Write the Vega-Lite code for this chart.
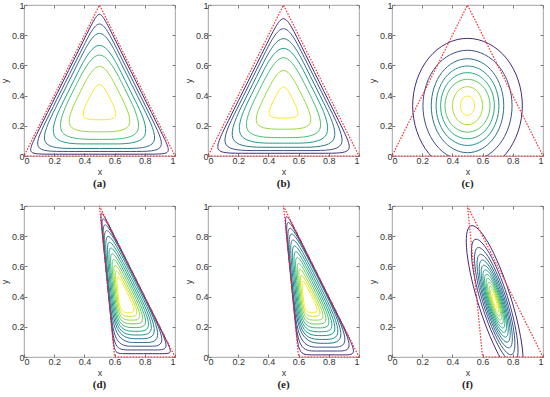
{
"$schema": "https://vega.github.io/schema/vega-lite/v6.json",
"padding": {"left": 0, "top": 0, "right": 0, "bottom": 0},
"config": {
 "view": {"stroke": "#8a8a8a", "strokeWidth": 0.8},
 "axis": {"labelFont": "Liberation Sans", "labelFontSize": 9, "labelColor": "#333333", "titleFont": "Liberation Sans", "titleFontSize": 9, "titleFontWeight": "normal", "titleColor": "#333333", "grid": false, "domain": false, "tickColor": "#777777", "tickSize": -3, "labelPadding": 3, "titlePadding": 2, "values": [0, 0.2, 0.4, 0.6, 0.8, 1], "format": "~g"},
 "title": {"orient": "bottom", "font": "Liberation Serif", "fontSize": 11, "fontWeight": "bold", "color": "#222222", "offset": 2}
},
"datasets": {
 "tri": [
  {"g":1,"o":1,"x":0,"y":0},{"g":1,"o":2,"x":1,"y":0},{"g":1,"o":3,"x":0.5,"y":1},{"g":1,"o":4,"x":0,"y":0},
  {"g":2,"o":1,"x":0.6,"y":0},{"g":2,"o":2,"x":1,"y":0},{"g":2,"o":3,"x":0.5,"y":1},{"g":2,"o":4,"x":0.6,"y":0}
 ],
 "con": [
  {"p":"a","k":1,"l":0,"o":1,"x":0.132,"y":0.012},{"p":"a","k":1,"l":0,"o":2,"x":0.868,"y":0.012},{"p":"a","k":1,"l":0,"o":3,"x":0.982,"y":0.012},{"p":"a","k":1,"l":0,"o":4,"x":0.925,"y":0.126},{"p":"a","k":1,"l":0,"o":5,"x":0.557,"y":0.862},{"p":"a","k":1,"l":0,"o":6,"x":0.5,"y":0.976},{"p":"a","k":1,"l":0,"o":7,"x":0.443,"y":0.862},{"p":"a","k":1,"l":0,"o":8,"x":0.075,"y":0.126},{"p":"a","k":1,"l":0,"o":9,"x":0.018,"y":0.012},
  {"p":"a","k":2,"l":0.1667,"o":1,"x":0.243,"y":0.03},{"p":"a","k":2,"l":0.1667,"o":2,"x":0.757,"y":0.03},{"p":"a","k":2,"l":0.1667,"o":3,"x":0.955,"y":0.03},{"p":"a","k":2,"l":0.1667,"o":4,"x":0.856,"y":0.228},{"p":"a","k":2,"l":0.1667,"o":5,"x":0.599,"y":0.742},{"p":"a","k":2,"l":0.1667,"o":6,"x":0.5,"y":0.94},{"p":"a","k":2,"l":0.1667,"o":7,"x":0.401,"y":0.742},{"p":"a","k":2,"l":0.1667,"o":8,"x":0.144,"y":0.228},{"p":"a","k":2,"l":0.1667,"o":9,"x":0.045,"y":0.03},
  {"p":"a","k":3,"l":0.3333,"o":1,"x":0.339,"y":0.05},{"p":"a","k":3,"l":0.3333,"o":2,"x":0.661,"y":0.05},{"p":"a","k":3,"l":0.3333,"o":3,"x":0.925,"y":0.05},{"p":"a","k":3,"l":0.3333,"o":4,"x":0.793,"y":0.314},{"p":"a","k":3,"l":0.3333,"o":5,"x":0.632,"y":0.636},{"p":"a","k":3,"l":0.3333,"o":6,"x":0.5,"y":0.9},{"p":"a","k":3,"l":0.3333,"o":7,"x":0.368,"y":0.636},{"p":"a","k":3,"l":0.3333,"o":8,"x":0.207,"y":0.314},{"p":"a","k":3,"l":0.3333,"o":9,"x":0.075,"y":0.05},
  {"p":"a","k":4,"l":0.5,"o":1,"x":0.444,"y":0.08},{"p":"a","k":4,"l":0.5,"o":2,"x":0.556,"y":0.08},{"p":"a","k":4,"l":0.5,"o":3,"x":0.88,"y":0.08},{"p":"a","k":4,"l":0.5,"o":4,"x":0.718,"y":0.404},{"p":"a","k":4,"l":0.5,"o":5,"x":0.662,"y":0.516},{"p":"a","k":4,"l":0.5,"o":6,"x":0.5,"y":0.84},{"p":"a","k":4,"l":0.5,"o":7,"x":0.338,"y":0.516},{"p":"a","k":4,"l":0.5,"o":8,"x":0.282,"y":0.404},{"p":"a","k":4,"l":0.5,"o":9,"x":0.12,"y":0.08},
  {"p":"a","k":5,"l":0.6667,"o":1,"x":0.165,"y":0.11},{"p":"a","k":5,"l":0.6667,"o":2,"x":0.5,"y":0.11},{"p":"a","k":5,"l":0.6667,"o":3,"x":0.835,"y":0.11},{"p":"a","k":5,"l":0.6667,"o":4,"x":0.6675,"y":0.445},{"p":"a","k":5,"l":0.6667,"o":5,"x":0.5,"y":0.78},{"p":"a","k":5,"l":0.6667,"o":6,"x":0.3325,"y":0.445},
  {"p":"a","k":6,"l":0.8333,"o":1,"x":0.24,"y":0.16},{"p":"a","k":6,"l":0.8333,"o":2,"x":0.5,"y":0.16},{"p":"a","k":6,"l":0.8333,"o":3,"x":0.76,"y":0.16},{"p":"a","k":6,"l":0.8333,"o":4,"x":0.63,"y":0.42},{"p":"a","k":6,"l":0.8333,"o":5,"x":0.5,"y":0.68},{"p":"a","k":6,"l":0.8333,"o":6,"x":0.37,"y":0.42},
  {"p":"a","k":7,"l":1,"o":1,"x":0.36,"y":0.24},{"p":"a","k":7,"l":1,"o":2,"x":0.5,"y":0.24},{"p":"a","k":7,"l":1,"o":3,"x":0.64,"y":0.24},{"p":"a","k":7,"l":1,"o":4,"x":0.57,"y":0.38},{"p":"a","k":7,"l":1,"o":5,"x":0.5,"y":0.52},{"p":"a","k":7,"l":1,"o":6,"x":0.43,"y":0.38},

  {"p":"b","k":1,"l":0,"o":1,"x":0.192,"y":0.018},{"p":"b","k":1,"l":0,"o":2,"x":0.808,"y":0.018},{"p":"b","k":1,"l":0,"o":3,"x":0.973,"y":0.018},{"p":"b","k":1,"l":0,"o":4,"x":0.8905,"y":0.183},{"p":"b","k":1,"l":0,"o":5,"x":0.5825,"y":0.799},{"p":"b","k":1,"l":0,"o":6,"x":0.5,"y":0.964},{"p":"b","k":1,"l":0,"o":7,"x":0.4175,"y":0.799},{"p":"b","k":1,"l":0,"o":8,"x":0.1095,"y":0.183},{"p":"b","k":1,"l":0,"o":9,"x":0.027,"y":0.018},
  {"p":"b","k":2,"l":0.1667,"o":1,"x":0.309,"y":0.036},{"p":"b","k":2,"l":0.1667,"o":2,"x":0.691,"y":0.036},{"p":"b","k":2,"l":0.1667,"o":3,"x":0.946,"y":0.036},{"p":"b","k":2,"l":0.1667,"o":4,"x":0.8185,"y":0.291},{"p":"b","k":2,"l":0.1667,"o":5,"x":0.6275,"y":0.673},{"p":"b","k":2,"l":0.1667,"o":6,"x":0.5,"y":0.928},{"p":"b","k":2,"l":0.1667,"o":7,"x":0.3725,"y":0.673},{"p":"b","k":2,"l":0.1667,"o":8,"x":0.1815,"y":0.291},{"p":"b","k":2,"l":0.1667,"o":9,"x":0.054,"y":0.036},
  {"p":"b","k":3,"l":0.3333,"o":1,"x":0.408,"y":0.058},{"p":"b","k":3,"l":0.3333,"o":2,"x":0.592,"y":0.058},{"p":"b","k":3,"l":0.3333,"o":3,"x":0.913,"y":0.058},{"p":"b","k":3,"l":0.3333,"o":4,"x":0.7525,"y":0.379},{"p":"b","k":3,"l":0.3333,"o":5,"x":0.6605,"y":0.563},{"p":"b","k":3,"l":0.3333,"o":6,"x":0.5,"y":0.884},{"p":"b","k":3,"l":0.3333,"o":7,"x":0.3395,"y":0.563},{"p":"b","k":3,"l":0.3333,"o":8,"x":0.2475,"y":0.379},{"p":"b","k":3,"l":0.3333,"o":9,"x":0.087,"y":0.058},
  {"p":"b","k":4,"l":0.5,"o":1,"x":0.4785,"y":0.085},{"p":"b","k":4,"l":0.5,"o":2,"x":0.5215,"y":0.085},{"p":"b","k":4,"l":0.5,"o":3,"x":0.8725,"y":0.085},{"p":"b","k":4,"l":0.5,"o":4,"x":0.697,"y":0.436},{"p":"b","k":4,"l":0.5,"o":5,"x":0.6755,"y":0.479},{"p":"b","k":4,"l":0.5,"o":6,"x":0.5,"y":0.83},{"p":"b","k":4,"l":0.5,"o":7,"x":0.3245,"y":0.479},{"p":"b","k":4,"l":0.5,"o":8,"x":0.3025,"y":0.436},{"p":"b","k":4,"l":0.5,"o":9,"x":0.1275,"y":0.085},
  {"p":"b","k":5,"l":0.6667,"o":1,"x":0.182,"y":0.1215},{"p":"b","k":5,"l":0.6667,"o":2,"x":0.5,"y":0.1215},{"p":"b","k":5,"l":0.6667,"o":3,"x":0.818,"y":0.1215},{"p":"b","k":5,"l":0.6667,"o":4,"x":0.659,"y":0.439},{"p":"b","k":5,"l":0.6667,"o":5,"x":0.5,"y":0.757},{"p":"b","k":5,"l":0.6667,"o":6,"x":0.341,"y":0.439},
  {"p":"b","k":6,"l":0.8333,"o":1,"x":0.266,"y":0.1775},{"p":"b","k":6,"l":0.8333,"o":2,"x":0.5,"y":0.1775},{"p":"b","k":6,"l":0.8333,"o":3,"x":0.734,"y":0.1775},{"p":"b","k":6,"l":0.8333,"o":4,"x":0.617,"y":0.411},{"p":"b","k":6,"l":0.8333,"o":5,"x":0.5,"y":0.645},{"p":"b","k":6,"l":0.8333,"o":6,"x":0.383,"y":0.411},
  {"p":"b","k":7,"l":1,"o":1,"x":0.3765,"y":0.251},{"p":"b","k":7,"l":1,"o":2,"x":0.5,"y":0.251},{"p":"b","k":7,"l":1,"o":3,"x":0.6235,"y":0.251},{"p":"b","k":7,"l":1,"o":4,"x":0.562,"y":0.3745},{"p":"b","k":7,"l":1,"o":5,"x":0.5,"y":0.498},{"p":"b","k":7,"l":1,"o":6,"x":0.438,"y":0.3745},

  {"p":"c","k":1,"l":0,"o":1,"x":0.9024,"y":0.333},{"p":"c","k":1,"l":0,"o":2,"x":0.7846,"y":0.6826},{"p":"c","k":1,"l":0,"o":3,"x":0.5,"y":0.8274},{"p":"c","k":1,"l":0,"o":4,"x":0.2154,"y":0.6826},{"p":"c","k":1,"l":0,"o":5,"x":0.0976,"y":0.333},{"p":"c","k":1,"l":0,"o":6,"x":0.2154,"y":-0.0166},{"p":"c","k":1,"l":0,"o":7,"x":0.5,"y":-0.1614},{"p":"c","k":1,"l":0,"o":8,"x":0.7846,"y":-0.0166},
  {"p":"c","k":2,"l":0.1429,"o":1,"x":0.827,"y":0.333},{"p":"c","k":2,"l":0.1429,"o":2,"x":0.7313,"y":0.6207},{"p":"c","k":2,"l":0.1429,"o":3,"x":0.5,"y":0.7399},{"p":"c","k":2,"l":0.1429,"o":4,"x":0.2687,"y":0.6207},{"p":"c","k":2,"l":0.1429,"o":5,"x":0.173,"y":0.333},{"p":"c","k":2,"l":0.1429,"o":6,"x":0.2687,"y":0.0453},{"p":"c","k":2,"l":0.1429,"o":7,"x":0.5,"y":-0.0739},{"p":"c","k":2,"l":0.1429,"o":8,"x":0.7313,"y":0.0453},
  {"p":"c","k":3,"l":0.2857,"o":1,"x":0.7661,"y":0.333},{"p":"c","k":3,"l":0.2857,"o":2,"x":0.6881,"y":0.5768},{"p":"c","k":3,"l":0.2857,"o":3,"x":0.5,"y":0.6778},{"p":"c","k":3,"l":0.2857,"o":4,"x":0.3119,"y":0.5768},{"p":"c","k":3,"l":0.2857,"o":5,"x":0.2339,"y":0.333},{"p":"c","k":3,"l":0.2857,"o":6,"x":0.3119,"y":0.0892},{"p":"c","k":3,"l":0.2857,"o":7,"x":0.5,"y":-0.0118},{"p":"c","k":3,"l":0.2857,"o":8,"x":0.6881,"y":0.0892},
  {"p":"c","k":4,"l":0.4286,"o":1,"x":0.7306,"y":0.333},{"p":"c","k":4,"l":0.4286,"o":2,"x":0.6631,"y":0.5392},{"p":"c","k":4,"l":0.4286,"o":3,"x":0.5,"y":0.6246},{"p":"c","k":4,"l":0.4286,"o":4,"x":0.3369,"y":0.5392},{"p":"c","k":4,"l":0.4286,"o":5,"x":0.2694,"y":0.333},{"p":"c","k":4,"l":0.4286,"o":6,"x":0.3369,"y":0.1268},{"p":"c","k":4,"l":0.4286,"o":7,"x":0.5,"y":0.0414},{"p":"c","k":4,"l":0.4286,"o":8,"x":0.6631,"y":0.1268},
  {"p":"c","k":5,"l":0.5714,"o":1,"x":0.6973,"y":0.333},{"p":"c","k":5,"l":0.5714,"o":2,"x":0.6395,"y":0.5047},{"p":"c","k":5,"l":0.5714,"o":3,"x":0.5,"y":0.5758},{"p":"c","k":5,"l":0.5714,"o":4,"x":0.3605,"y":0.5047},{"p":"c","k":5,"l":0.5714,"o":5,"x":0.3027,"y":0.333},{"p":"c","k":5,"l":0.5714,"o":6,"x":0.3605,"y":0.1613},{"p":"c","k":5,"l":0.5714,"o":7,"x":0.5,"y":0.0902},{"p":"c","k":5,"l":0.5714,"o":8,"x":0.6395,"y":0.1613},
  {"p":"c","k":6,"l":0.7143,"o":1,"x":0.6652,"y":0.333},{"p":"c","k":6,"l":0.7143,"o":2,"x":0.6168,"y":0.4702},{"p":"c","k":6,"l":0.7143,"o":3,"x":0.5,"y":0.527},{"p":"c","k":6,"l":0.7143,"o":4,"x":0.3832,"y":0.4702},{"p":"c","k":6,"l":0.7143,"o":5,"x":0.3348,"y":0.333},{"p":"c","k":6,"l":0.7143,"o":6,"x":0.3832,"y":0.1958},{"p":"c","k":6,"l":0.7143,"o":7,"x":0.5,"y":0.139},{"p":"c","k":6,"l":0.7143,"o":8,"x":0.6168,"y":0.1958},
  {"p":"c","k":7,"l":0.8571,"o":1,"x":0.6109,"y":0.333},{"p":"c","k":7,"l":0.8571,"o":2,"x":0.5784,"y":0.4318},{"p":"c","k":7,"l":0.8571,"o":3,"x":0.5,"y":0.4727},{"p":"c","k":7,"l":0.8571,"o":4,"x":0.4216,"y":0.4318},{"p":"c","k":7,"l":0.8571,"o":5,"x":0.3891,"y":0.333},{"p":"c","k":7,"l":0.8571,"o":6,"x":0.4216,"y":0.2342},{"p":"c","k":7,"l":0.8571,"o":7,"x":0.5,"y":0.1933},{"p":"c","k":7,"l":0.8571,"o":8,"x":0.5784,"y":0.2342},
  {"p":"c","k":8,"l":1,"o":1,"x":0.5521,"y":0.333},{"p":"c","k":8,"l":1,"o":2,"x":0.5368,"y":0.3832},{"p":"c","k":8,"l":1,"o":3,"x":0.5,"y":0.404},{"p":"c","k":8,"l":1,"o":4,"x":0.4632,"y":0.3832},{"p":"c","k":8,"l":1,"o":5,"x":0.4479,"y":0.333},{"p":"c","k":8,"l":1,"o":6,"x":0.4632,"y":0.2828},{"p":"c","k":8,"l":1,"o":7,"x":0.5,"y":0.262},{"p":"c","k":8,"l":1,"o":8,"x":0.5368,"y":0.2828},

  {"p":"d","k":1,"l":0,"o":1,"x":0.6492,"y":0.022},{"p":"d","k":1,"l":0,"o":2,"x":0.937,"y":0.022},{"p":"d","k":1,"l":0,"o":3,"x":0.9875,"y":0.022},{"p":"d","k":1,"l":0,"o":4,"x":0.9243,"y":0.1484},{"p":"d","k":1,"l":0,"o":5,"x":0.5647,"y":0.8676},{"p":"d","k":1,"l":0,"o":6,"x":0.5015,"y":0.994},{"p":"d","k":1,"l":0,"o":7,"x":0.5141,"y":0.8676},{"p":"d","k":1,"l":0,"o":8,"x":0.5861,"y":0.1484},{"p":"d","k":1,"l":0,"o":9,"x":0.5987,"y":0.022},
  {"p":"d","k":2,"l":0.0909,"o":1,"x":0.6861,"y":0.0467},{"p":"d","k":2,"l":0.0909,"o":2,"x":0.8848,"y":0.0467},{"p":"d","k":2,"l":0.0909,"o":3,"x":0.9737,"y":0.0467},{"p":"d","k":2,"l":0.0909,"o":4,"x":0.8626,"y":0.2688},{"p":"d","k":2,"l":0.0909,"o":5,"x":0.6141,"y":0.7659},{"p":"d","k":2,"l":0.0909,"o":6,"x":0.503,"y":0.988},{"p":"d","k":2,"l":0.0909,"o":7,"x":0.5252,"y":0.7659},{"p":"d","k":2,"l":0.0909,"o":8,"x":0.575,"y":0.2688},{"p":"d","k":2,"l":0.0909,"o":9,"x":0.5972,"y":0.0467},
  {"p":"d","k":3,"l":0.1818,"o":1,"x":0.7219,"y":0.0714},{"p":"d","k":3,"l":0.1818,"o":2,"x":0.8334,"y":0.0714},{"p":"d","k":3,"l":0.1818,"o":3,"x":0.9594,"y":0.0714},{"p":"d","k":3,"l":0.1818,"o":4,"x":0.8019,"y":0.3864},{"p":"d","k":3,"l":0.1818,"o":5,"x":0.6626,"y":0.665},{"p":"d","k":3,"l":0.1818,"o":6,"x":0.5051,"y":0.98},{"p":"d","k":3,"l":0.1818,"o":7,"x":0.5366,"y":0.665},{"p":"d","k":3,"l":0.1818,"o":8,"x":0.5644,"y":0.3864},{"p":"d","k":3,"l":0.1818,"o":9,"x":0.5959,"y":0.0714},
  {"p":"d","k":4,"l":0.2727,"o":1,"x":0.7546,"y":0.0961},{"p":"d","k":4,"l":0.2727,"o":2,"x":0.785,"y":0.0961},{"p":"d","k":4,"l":0.2727,"o":3,"x":0.9446,"y":0.0961},{"p":"d","k":4,"l":0.2727,"o":4,"x":0.7451,"y":0.4951},{"p":"d","k":4,"l":0.2727,"o":5,"x":0.7071,"y":0.571},{"p":"d","k":4,"l":0.2727,"o":6,"x":0.5076,"y":0.97},{"p":"d","k":4,"l":0.2727,"o":7,"x":0.5475,"y":0.571},{"p":"d","k":4,"l":0.2727,"o":8,"x":0.5551,"y":0.4951},{"p":"d","k":4,"l":0.2727,"o":9,"x":0.595,"y":0.0961},
  {"p":"d","k":5,"l":0.3636,"o":1,"x":0.598,"y":0.1208},{"p":"d","k":5,"l":0.3636,"o":2,"x":0.7608,"y":0.1208},{"p":"d","k":5,"l":0.3636,"o":3,"x":0.9235,"y":0.1208},{"p":"d","k":5,"l":0.3636,"o":4,"x":0.72,"y":0.5277},{"p":"d","k":5,"l":0.3636,"o":5,"x":0.5166,"y":0.9346},{"p":"d","k":5,"l":0.3636,"o":6,"x":0.5573,"y":0.5277},
  {"p":"d","k":6,"l":0.4545,"o":1,"x":0.6035,"y":0.1455},{"p":"d","k":6,"l":0.4545,"o":2,"x":0.751,"y":0.1455},{"p":"d","k":6,"l":0.4545,"o":3,"x":0.8984,"y":0.1455},{"p":"d","k":6,"l":0.4545,"o":4,"x":0.7141,"y":0.5142},{"p":"d","k":6,"l":0.4545,"o":5,"x":0.5297,"y":0.8829},{"p":"d","k":6,"l":0.4545,"o":6,"x":0.5666,"y":0.5142},
  {"p":"d","k":7,"l":0.5455,"o":1,"x":0.6087,"y":0.1702},{"p":"d","k":7,"l":0.5455,"o":2,"x":0.7412,"y":0.1702},{"p":"d","k":7,"l":0.5455,"o":3,"x":0.8736,"y":0.1702},{"p":"d","k":7,"l":0.5455,"o":4,"x":0.7081,"y":0.5013},{"p":"d","k":7,"l":0.5455,"o":5,"x":0.5425,"y":0.8324},{"p":"d","k":7,"l":0.5455,"o":6,"x":0.5756,"y":0.5013},
  {"p":"d","k":8,"l":0.6364,"o":1,"x":0.614,"y":0.1949},{"p":"d","k":8,"l":0.6364,"o":2,"x":0.7314,"y":0.1949},{"p":"d","k":8,"l":0.6364,"o":3,"x":0.8488,"y":0.1949},{"p":"d","k":8,"l":0.6364,"o":4,"x":0.7021,"y":0.4884},{"p":"d","k":8,"l":0.6364,"o":5,"x":0.5553,"y":0.7818},{"p":"d","k":8,"l":0.6364,"o":6,"x":0.5847,"y":0.4884},
  {"p":"d","k":9,"l":0.7273,"o":1,"x":0.6193,"y":0.2196},{"p":"d","k":9,"l":0.7273,"o":2,"x":0.7217,"y":0.2196},{"p":"d","k":9,"l":0.7273,"o":3,"x":0.824,"y":0.2196},{"p":"d","k":9,"l":0.7273,"o":4,"x":0.6961,"y":0.4755},{"p":"d","k":9,"l":0.7273,"o":5,"x":0.5682,"y":0.7313},{"p":"d","k":9,"l":0.7273,"o":6,"x":0.5938,"y":0.4755},
  {"p":"d","k":10,"l":0.8182,"o":1,"x":0.6248,"y":0.2443},{"p":"d","k":10,"l":0.8182,"o":2,"x":0.7119,"y":0.2443},{"p":"d","k":10,"l":0.8182,"o":3,"x":0.7989,"y":0.2443},{"p":"d","k":10,"l":0.8182,"o":4,"x":0.6901,"y":0.4619},{"p":"d","k":10,"l":0.8182,"o":5,"x":0.5813,"y":0.6795},{"p":"d","k":10,"l":0.8182,"o":6,"x":0.6031,"y":0.4619},
  {"p":"d","k":11,"l":0.9091,"o":1,"x":0.6301,"y":0.269},{"p":"d","k":11,"l":0.9091,"o":2,"x":0.7021,"y":0.269},{"p":"d","k":11,"l":0.9091,"o":3,"x":0.7741,"y":0.269},{"p":"d","k":11,"l":0.9091,"o":4,"x":0.6841,"y":0.449},{"p":"d","k":11,"l":0.9091,"o":5,"x":0.5941,"y":0.629},{"p":"d","k":11,"l":0.9091,"o":6,"x":0.6121,"y":0.449},
  {"p":"d","k":12,"l":1,"o":1,"x":0.6354,"y":0.294},{"p":"d","k":12,"l":1,"o":2,"x":0.6922,"y":0.294},{"p":"d","k":12,"l":1,"o":3,"x":0.749,"y":0.294},{"p":"d","k":12,"l":1,"o":4,"x":0.678,"y":0.436},{"p":"d","k":12,"l":1,"o":5,"x":0.607,"y":0.578},{"p":"d","k":12,"l":1,"o":6,"x":0.6212,"y":0.436},

  {"p":"e","k":1,"l":0,"o":1,"x":0.6753,"y":0.014},{"p":"e","k":1,"l":0,"o":2,"x":0.9157,"y":0.014},{"p":"e","k":1,"l":0,"o":3,"x":0.9913,"y":0.014},{"p":"e","k":1,"l":0,"o":4,"x":0.8968,"y":0.2029},{"p":"e","k":1,"l":0,"o":5,"x":0.5963,"y":0.8041},{"p":"e","k":1,"l":0,"o":6,"x":0.5018,"y":0.993},{"p":"e","k":1,"l":0,"o":7,"x":0.5207,"y":0.8041},{"p":"e","k":1,"l":0,"o":8,"x":0.5808,"y":0.2029},{"p":"e","k":1,"l":0,"o":9,"x":0.5997,"y":0.014},
  {"p":"e","k":2,"l":0.0909,"o":1,"x":0.7122,"y":0.0396},{"p":"e","k":2,"l":0.0909,"o":2,"x":0.8628,"y":0.0396},{"p":"e","k":2,"l":0.0909,"o":3,"x":0.9768,"y":0.0396},{"p":"e","k":2,"l":0.0909,"o":4,"x":0.8343,"y":0.3246},{"p":"e","k":2,"l":0.0909,"o":5,"x":0.6461,"y":0.701},{"p":"e","k":2,"l":0.0909,"o":6,"x":0.5036,"y":0.986},{"p":"e","k":2,"l":0.0909,"o":7,"x":0.5321,"y":0.701},{"p":"e","k":2,"l":0.0909,"o":8,"x":0.5697,"y":0.3246},{"p":"e","k":2,"l":0.0909,"o":9,"x":0.5982,"y":0.0396},
  {"p":"e","k":3,"l":0.1818,"o":1,"x":0.7449,"y":0.0651},{"p":"e","k":3,"l":0.1818,"o":2,"x":0.8137,"y":0.0651},{"p":"e","k":3,"l":0.1818,"o":3,"x":0.9613,"y":0.0651},{"p":"e","k":3,"l":0.1818,"o":4,"x":0.7768,"y":0.4341},{"p":"e","k":3,"l":0.1818,"o":5,"x":0.6908,"y":0.606},{"p":"e","k":3,"l":0.1818,"o":6,"x":0.5063,"y":0.975},{"p":"e","k":3,"l":0.1818,"o":7,"x":0.5432,"y":0.606},{"p":"e","k":3,"l":0.1818,"o":8,"x":0.5604,"y":0.4341},{"p":"e","k":3,"l":0.1818,"o":9,"x":0.5973,"y":0.0651},
  {"p":"e","k":4,"l":0.2727,"o":1,"x":0.5973,"y":0.0907},{"p":"e","k":4,"l":0.2727,"o":2,"x":0.7709,"y":0.0907},{"p":"e","k":4,"l":0.2727,"o":3,"x":0.9445,"y":0.0907},{"p":"e","k":4,"l":0.2727,"o":4,"x":0.7275,"y":0.5247},{"p":"e","k":4,"l":0.2727,"o":5,"x":0.5105,"y":0.9587},{"p":"e","k":4,"l":0.2727,"o":6,"x":0.5539,"y":0.5247},
  {"p":"e","k":5,"l":0.3636,"o":1,"x":0.6027,"y":0.1162},{"p":"e","k":5,"l":0.3636,"o":2,"x":0.7608,"y":0.1162},{"p":"e","k":5,"l":0.3636,"o":3,"x":0.9189,"y":0.1162},{"p":"e","k":5,"l":0.3636,"o":4,"x":0.7213,"y":0.5115},{"p":"e","k":5,"l":0.3636,"o":5,"x":0.5236,"y":0.9068},{"p":"e","k":5,"l":0.3636,"o":6,"x":0.5632,"y":0.5115},
  {"p":"e","k":6,"l":0.4545,"o":1,"x":0.6081,"y":0.1418},{"p":"e","k":6,"l":0.4545,"o":2,"x":0.7507,"y":0.1418},{"p":"e","k":6,"l":0.4545,"o":3,"x":0.8933,"y":0.1418},{"p":"e","k":6,"l":0.4545,"o":4,"x":0.7151,"y":0.4983},{"p":"e","k":6,"l":0.4545,"o":5,"x":0.5368,"y":0.8548},{"p":"e","k":6,"l":0.4545,"o":6,"x":0.5725,"y":0.4983},
  {"p":"e","k":7,"l":0.5455,"o":1,"x":0.6136,"y":0.1673},{"p":"e","k":7,"l":0.5455,"o":2,"x":0.7407,"y":0.1673},{"p":"e","k":7,"l":0.5455,"o":3,"x":0.8678,"y":0.1673},{"p":"e","k":7,"l":0.5455,"o":4,"x":0.7089,"y":0.4851},{"p":"e","k":7,"l":0.5455,"o":5,"x":0.55,"y":0.8029},{"p":"e","k":7,"l":0.5455,"o":6,"x":0.5818,"y":0.4851},
  {"p":"e","k":8,"l":0.6364,"o":1,"x":0.6188,"y":0.1929},{"p":"e","k":8,"l":0.6364,"o":2,"x":0.7307,"y":0.1929},{"p":"e","k":8,"l":0.6364,"o":3,"x":0.8425,"y":0.1929},{"p":"e","k":8,"l":0.6364,"o":4,"x":0.7027,"y":0.4726},{"p":"e","k":8,"l":0.6364,"o":5,"x":0.5629,"y":0.7522},{"p":"e","k":8,"l":0.6364,"o":6,"x":0.5909,"y":0.4726},
  {"p":"e","k":9,"l":0.7273,"o":1,"x":0.6242,"y":0.2184},{"p":"e","k":9,"l":0.7273,"o":2,"x":0.7206,"y":0.2184},{"p":"e","k":9,"l":0.7273,"o":3,"x":0.817,"y":0.2184},{"p":"e","k":9,"l":0.7273,"o":4,"x":0.6965,"y":0.4594},{"p":"e","k":9,"l":0.7273,"o":5,"x":0.576,"y":0.7003},{"p":"e","k":9,"l":0.7273,"o":6,"x":0.6001,"y":0.4594},
  {"p":"e","k":10,"l":0.8182,"o":1,"x":0.6296,"y":0.244},{"p":"e","k":10,"l":0.8182,"o":2,"x":0.7105,"y":0.244},{"p":"e","k":10,"l":0.8182,"o":3,"x":0.7914,"y":0.244},{"p":"e","k":10,"l":0.8182,"o":4,"x":0.6903,"y":0.4462},{"p":"e","k":10,"l":0.8182,"o":5,"x":0.5892,"y":0.6484},{"p":"e","k":10,"l":0.8182,"o":6,"x":0.6094,"y":0.4462},
  {"p":"e","k":11,"l":0.9091,"o":1,"x":0.635,"y":0.2695},{"p":"e","k":11,"l":0.9091,"o":2,"x":0.7004,"y":0.2695},{"p":"e","k":11,"l":0.9091,"o":3,"x":0.7658,"y":0.2695},{"p":"e","k":11,"l":0.9091,"o":4,"x":0.6841,"y":0.433},{"p":"e","k":11,"l":0.9091,"o":5,"x":0.6023,"y":0.5965},{"p":"e","k":11,"l":0.9091,"o":6,"x":0.6187,"y":0.433},
  {"p":"e","k":12,"l":1,"o":1,"x":0.6405,"y":0.295},{"p":"e","k":12,"l":1,"o":2,"x":0.6904,"y":0.295},{"p":"e","k":12,"l":1,"o":3,"x":0.7403,"y":0.295},{"p":"e","k":12,"l":1,"o":4,"x":0.6779,"y":0.4198},{"p":"e","k":12,"l":1,"o":5,"x":0.6155,"y":0.5446},{"p":"e","k":12,"l":1,"o":6,"x":0.628,"y":0.4198},

  {"p":"f","k":1,"l":0,"o":1,"x":0.8066,"y":0.37},{"p":"f","k":1,"l":0,"o":2,"x":0.652,"y":0.762},{"p":"f","k":1,"l":0,"o":3,"x":0.5139,"y":0.9243},{"p":"f","k":1,"l":0,"o":4,"x":0.4733,"y":0.762},{"p":"f","k":1,"l":0,"o":5,"x":0.5538,"y":0.37},{"p":"f","k":1,"l":0,"o":6,"x":0.7084,"y":-0.022},{"p":"f","k":1,"l":0,"o":7,"x":0.8465,"y":-0.1843},{"p":"f","k":1,"l":0,"o":8,"x":0.8872,"y":-0.022},
  {"p":"f","k":2,"l":0.0833,"o":1,"x":0.7838,"y":0.37},{"p":"f","k":2,"l":0.0833,"o":2,"x":0.6571,"y":0.6914},{"p":"f","k":2,"l":0.0833,"o":3,"x":0.5438,"y":0.8245},{"p":"f","k":2,"l":0.0833,"o":4,"x":0.5105,"y":0.6914},{"p":"f","k":2,"l":0.0833,"o":5,"x":0.5766,"y":0.37},{"p":"f","k":2,"l":0.0833,"o":6,"x":0.7033,"y":0.0486},{"p":"f","k":2,"l":0.0833,"o":7,"x":0.8166,"y":-0.0845},{"p":"f","k":2,"l":0.0833,"o":8,"x":0.8499,"y":0.0486},
  {"p":"f","k":3,"l":0.1667,"o":1,"x":0.7699,"y":0.37},{"p":"f","k":3,"l":0.1667,"o":2,"x":0.6602,"y":0.6483},{"p":"f","k":3,"l":0.1667,"o":3,"x":0.5621,"y":0.7636},{"p":"f","k":3,"l":0.1667,"o":4,"x":0.5333,"y":0.6483},{"p":"f","k":3,"l":0.1667,"o":5,"x":0.5905,"y":0.37},{"p":"f","k":3,"l":0.1667,"o":6,"x":0.7002,"y":0.0917},{"p":"f","k":3,"l":0.1667,"o":7,"x":0.7983,"y":-0.0236},{"p":"f","k":3,"l":0.1667,"o":8,"x":0.8271,"y":0.0917},
  {"p":"f","k":4,"l":0.25,"o":1,"x":0.7586,"y":0.37},{"p":"f","k":4,"l":0.25,"o":2,"x":0.6627,"y":0.613},{"p":"f","k":4,"l":0.25,"o":3,"x":0.5771,"y":0.7137},{"p":"f","k":4,"l":0.25,"o":4,"x":0.5519,"y":0.613},{"p":"f","k":4,"l":0.25,"o":5,"x":0.6018,"y":0.37},{"p":"f","k":4,"l":0.25,"o":6,"x":0.6977,"y":0.127},{"p":"f","k":4,"l":0.25,"o":7,"x":0.7833,"y":0.0263},{"p":"f","k":4,"l":0.25,"o":8,"x":0.8085,"y":0.127},
  {"p":"f","k":5,"l":0.3333,"o":1,"x":0.749,"y":0.37},{"p":"f","k":5,"l":0.3333,"o":2,"x":0.6649,"y":0.5832},{"p":"f","k":5,"l":0.3333,"o":3,"x":0.5897,"y":0.6715},{"p":"f","k":5,"l":0.3333,"o":4,"x":0.5676,"y":0.5832},{"p":"f","k":5,"l":0.3333,"o":5,"x":0.6114,"y":0.37},{"p":"f","k":5,"l":0.3333,"o":6,"x":0.6955,"y":0.1568},{"p":"f","k":5,"l":0.3333,"o":7,"x":0.7707,"y":0.0685},{"p":"f","k":5,"l":0.3333,"o":8,"x":0.7928,"y":0.1568},
  {"p":"f","k":6,"l":0.4167,"o":1,"x":0.7404,"y":0.37},{"p":"f","k":6,"l":0.4167,"o":2,"x":0.6668,"y":0.5566},{"p":"f","k":6,"l":0.4167,"o":3,"x":0.601,"y":0.6338},{"p":"f","k":6,"l":0.4167,"o":4,"x":0.5817,"y":0.5566},{"p":"f","k":6,"l":0.4167,"o":5,"x":0.62,"y":0.37},{"p":"f","k":6,"l":0.4167,"o":6,"x":0.6936,"y":0.1834},{"p":"f","k":6,"l":0.4167,"o":7,"x":0.7594,"y":0.1062},{"p":"f","k":6,"l":0.4167,"o":8,"x":0.7787,"y":0.1834},
  {"p":"f","k":7,"l":0.5,"o":1,"x":0.7325,"y":0.37},{"p":"f","k":7,"l":0.5,"o":2,"x":0.6685,"y":0.5323},{"p":"f","k":7,"l":0.5,"o":3,"x":0.6114,"y":0.5995},{"p":"f","k":7,"l":0.5,"o":4,"x":0.5945,"y":0.5323},{"p":"f","k":7,"l":0.5,"o":5,"x":0.6279,"y":0.37},{"p":"f","k":7,"l":0.5,"o":6,"x":0.6919,"y":0.2077},{"p":"f","k":7,"l":0.5,"o":7,"x":0.749,"y":0.1405},{"p":"f","k":7,"l":0.5,"o":8,"x":0.7659,"y":0.2077},
  {"p":"f","k":8,"l":0.5833,"o":1,"x":0.7252,"y":0.37},{"p":"f","k":8,"l":0.5833,"o":2,"x":0.6702,"y":0.5095},{"p":"f","k":8,"l":0.5833,"o":3,"x":0.621,"y":0.5673},{"p":"f","k":8,"l":0.5833,"o":4,"x":0.6065,"y":0.5095},{"p":"f","k":8,"l":0.5833,"o":5,"x":0.6352,"y":0.37},{"p":"f","k":8,"l":0.5833,"o":6,"x":0.6902,"y":0.2305},{"p":"f","k":8,"l":0.5833,"o":7,"x":0.7394,"y":0.1727},{"p":"f","k":8,"l":0.5833,"o":8,"x":0.7539,"y":0.2305},
  {"p":"f","k":9,"l":0.6667,"o":1,"x":0.7184,"y":0.37},{"p":"f","k":9,"l":0.6667,"o":2,"x":0.6717,"y":0.4884},{"p":"f","k":9,"l":0.6667,"o":3,"x":0.63,"y":0.5374},{"p":"f","k":9,"l":0.6667,"o":4,"x":0.6177,"y":0.4884},{"p":"f","k":9,"l":0.6667,"o":5,"x":0.642,"y":0.37},{"p":"f","k":9,"l":0.6667,"o":6,"x":0.6887,"y":0.2516},{"p":"f","k":9,"l":0.6667,"o":7,"x":0.7304,"y":0.2026},{"p":"f","k":9,"l":0.6667,"o":8,"x":0.7427,"y":0.2516},
  {"p":"f","k":10,"l":0.75,"o":1,"x":0.7118,"y":0.37},{"p":"f","k":10,"l":0.75,"o":2,"x":0.6731,"y":0.468},{"p":"f","k":10,"l":0.75,"o":3,"x":0.6386,"y":0.5086},{"p":"f","k":10,"l":0.75,"o":4,"x":0.6285,"y":0.468},{"p":"f","k":10,"l":0.75,"o":5,"x":0.6486,"y":0.37},{"p":"f","k":10,"l":0.75,"o":6,"x":0.6873,"y":0.272},{"p":"f","k":10,"l":0.75,"o":7,"x":0.7218,"y":0.2314},{"p":"f","k":10,"l":0.75,"o":8,"x":0.7319,"y":0.272},
  {"p":"f","k":11,"l":0.8333,"o":1,"x":0.7052,"y":0.37},{"p":"f","k":11,"l":0.8333,"o":2,"x":0.6746,"y":0.4476},{"p":"f","k":11,"l":0.8333,"o":3,"x":0.6473,"y":0.4798},{"p":"f","k":11,"l":0.8333,"o":4,"x":0.6392,"y":0.4476},{"p":"f","k":11,"l":0.8333,"o":5,"x":0.6552,"y":0.37},{"p":"f","k":11,"l":0.8333,"o":6,"x":0.6858,"y":0.2924},{"p":"f","k":11,"l":0.8333,"o":7,"x":0.7131,"y":0.2602},{"p":"f","k":11,"l":0.8333,"o":8,"x":0.7212,"y":0.2924},
  {"p":"f","k":12,"l":0.9167,"o":1,"x":0.6987,"y":0.37},{"p":"f","k":12,"l":0.9167,"o":2,"x":0.6761,"y":0.4272},{"p":"f","k":12,"l":0.9167,"o":3,"x":0.6559,"y":0.4509},{"p":"f","k":12,"l":0.9167,"o":4,"x":0.65,"y":0.4272},{"p":"f","k":12,"l":0.9167,"o":5,"x":0.6617,"y":0.37},{"p":"f","k":12,"l":0.9167,"o":6,"x":0.6843,"y":0.3128},{"p":"f","k":12,"l":0.9167,"o":7,"x":0.7045,"y":0.2891},{"p":"f","k":12,"l":0.9167,"o":8,"x":0.7104,"y":0.3128},
  {"p":"f","k":13,"l":1,"o":1,"x":0.6916,"y":0.37},{"p":"f","k":13,"l":1,"o":2,"x":0.6777,"y":0.4053},{"p":"f","k":13,"l":1,"o":3,"x":0.6652,"y":0.4199},{"p":"f","k":13,"l":1,"o":4,"x":0.6616,"y":0.4053},{"p":"f","k":13,"l":1,"o":5,"x":0.6688,"y":0.37},{"p":"f","k":13,"l":1,"o":6,"x":0.6827,"y":0.3347},{"p":"f","k":13,"l":1,"o":7,"x":0.6952,"y":0.3201},{"p":"f","k":13,"l":1,"o":8,"x":0.6988,"y":0.3347}
 ]
},
"vconcat": [
 {"spacing": 6, "hconcat": [
  {"width": 151, "height": 151, "title": "(a)", "resolve": {"axis": {"x": "independent", "y": "independent"}}, "layer": [
   {"data": {"name": "con"}, "transform": [{"filter": "datum.p == 'a'"}], "mark": {"type": "line", "interpolate": "basis-closed", "clip": true, "strokeWidth": 1},
    "encoding": {"x": {"field": "x", "type": "quantitative", "scale": {"domain": [0, 1], "nice": false, "zero": false}, "axis": {"title": "x"}}, "y": {"field": "y", "type": "quantitative", "scale": {"domain": [0, 1], "nice": false, "zero": false}, "axis": {"title": "y"}}, "detail": {"field": "k", "type": "nominal"}, "order": {"field": "o", "type": "quantitative"}, "color": {"field": "l", "type": "quantitative", "scale": {"scheme": "viridis", "domain": [-0.12, 1]}, "legend": null}}},
   {"data": {"name": "tri"}, "transform": [{"filter": "datum.g == 1"}], "mark": {"type": "line", "color": "#ff2a2a", "strokeWidth": 1.2, "strokeDash": [1.5, 1.5]},
    "encoding": {"x": {"field": "x", "type": "quantitative", "axis": {"orient": "top", "labels": false, "title": null}}, "y": {"field": "y", "type": "quantitative", "axis": {"orient": "right", "labels": false, "title": null}}, "order": {"field": "o", "type": "quantitative"}}}
  ]},
  {"width": 151, "height": 151, "title": "(b)", "resolve": {"axis": {"x": "independent", "y": "independent"}}, "layer": [
   {"data": {"name": "con"}, "transform": [{"filter": "datum.p == 'b'"}], "mark": {"type": "line", "interpolate": "basis-closed", "clip": true, "strokeWidth": 1},
    "encoding": {"x": {"field": "x", "type": "quantitative", "scale": {"domain": [0, 1], "nice": false, "zero": false}, "axis": {"title": "x"}}, "y": {"field": "y", "type": "quantitative", "scale": {"domain": [0, 1], "nice": false, "zero": false}, "axis": {"title": "y"}}, "detail": {"field": "k", "type": "nominal"}, "order": {"field": "o", "type": "quantitative"}, "color": {"field": "l", "type": "quantitative", "scale": {"scheme": "viridis", "domain": [-0.12, 1]}, "legend": null}}},
   {"data": {"name": "tri"}, "transform": [{"filter": "datum.g == 1"}], "mark": {"type": "line", "color": "#ff2a2a", "strokeWidth": 1.2, "strokeDash": [1.5, 1.5]},
    "encoding": {"x": {"field": "x", "type": "quantitative", "axis": {"orient": "top", "labels": false, "title": null}}, "y": {"field": "y", "type": "quantitative", "axis": {"orient": "right", "labels": false, "title": null}}, "order": {"field": "o", "type": "quantitative"}}}
  ]},
  {"width": 151, "height": 151, "title": "(c)", "resolve": {"axis": {"x": "independent", "y": "independent"}}, "layer": [
   {"data": {"name": "con"}, "transform": [{"filter": "datum.p == 'c'"}], "mark": {"type": "line", "interpolate": "basis-closed", "clip": true, "strokeWidth": 1},
    "encoding": {"x": {"field": "x", "type": "quantitative", "scale": {"domain": [0, 1], "nice": false, "zero": false}, "axis": {"title": "x"}}, "y": {"field": "y", "type": "quantitative", "scale": {"domain": [0, 1], "nice": false, "zero": false}, "axis": {"title": "y"}}, "detail": {"field": "k", "type": "nominal"}, "order": {"field": "o", "type": "quantitative"}, "color": {"field": "l", "type": "quantitative", "scale": {"scheme": "viridis", "domain": [-0.12, 1]}, "legend": null}}},
   {"data": {"name": "tri"}, "transform": [{"filter": "datum.g == 1"}], "mark": {"type": "line", "color": "#ff2a2a", "strokeWidth": 1.2, "strokeDash": [1.5, 1.5]},
    "encoding": {"x": {"field": "x", "type": "quantitative", "axis": {"orient": "top", "labels": false, "title": null}}, "y": {"field": "y", "type": "quantitative", "axis": {"orient": "right", "labels": false, "title": null}}, "order": {"field": "o", "type": "quantitative"}}}
  ]}
 ]},
 {"spacing": 6, "hconcat": [
  {"width": 151, "height": 151, "title": "(d)", "resolve": {"axis": {"x": "independent", "y": "independent"}}, "layer": [
   {"data": {"name": "con"}, "transform": [{"filter": "datum.p == 'd'"}], "mark": {"type": "line", "interpolate": "basis-closed", "clip": true, "strokeWidth": 1},
    "encoding": {"x": {"field": "x", "type": "quantitative", "scale": {"domain": [0, 1], "nice": false, "zero": false}, "axis": {"title": "x"}}, "y": {"field": "y", "type": "quantitative", "scale": {"domain": [0, 1], "nice": false, "zero": false}, "axis": {"title": "y"}}, "detail": {"field": "k", "type": "nominal"}, "order": {"field": "o", "type": "quantitative"}, "color": {"field": "l", "type": "quantitative", "scale": {"scheme": "viridis", "domain": [-0.12, 1]}, "legend": null}}},
   {"data": {"name": "tri"}, "transform": [{"filter": "datum.g == 2"}], "mark": {"type": "line", "color": "#ff2a2a", "strokeWidth": 1.2, "strokeDash": [1.5, 1.5]},
    "encoding": {"x": {"field": "x", "type": "quantitative", "axis": {"orient": "top", "labels": false, "title": null}}, "y": {"field": "y", "type": "quantitative", "axis": {"orient": "right", "labels": false, "title": null}}, "order": {"field": "o", "type": "quantitative"}}}
  ]},
  {"width": 151, "height": 151, "title": "(e)", "resolve": {"axis": {"x": "independent", "y": "independent"}}, "layer": [
   {"data": {"name": "con"}, "transform": [{"filter": "datum.p == 'e'"}], "mark": {"type": "line", "interpolate": "basis-closed", "clip": true, "strokeWidth": 1},
    "encoding": {"x": {"field": "x", "type": "quantitative", "scale": {"domain": [0, 1], "nice": false, "zero": false}, "axis": {"title": "x"}}, "y": {"field": "y", "type": "quantitative", "scale": {"domain": [0, 1], "nice": false, "zero": false}, "axis": {"title": "y"}}, "detail": {"field": "k", "type": "nominal"}, "order": {"field": "o", "type": "quantitative"}, "color": {"field": "l", "type": "quantitative", "scale": {"scheme": "viridis", "domain": [-0.12, 1]}, "legend": null}}},
   {"data": {"name": "tri"}, "transform": [{"filter": "datum.g == 2"}], "mark": {"type": "line", "color": "#ff2a2a", "strokeWidth": 1.2, "strokeDash": [1.5, 1.5]},
    "encoding": {"x": {"field": "x", "type": "quantitative", "axis": {"orient": "top", "labels": false, "title": null}}, "y": {"field": "y", "type": "quantitative", "axis": {"orient": "right", "labels": false, "title": null}}, "order": {"field": "o", "type": "quantitative"}}}
  ]},
  {"width": 151, "height": 151, "title": "(f)", "resolve": {"axis": {"x": "independent", "y": "independent"}}, "layer": [
   {"data": {"name": "con"}, "transform": [{"filter": "datum.p == 'f'"}], "mark": {"type": "line", "interpolate": "basis-closed", "clip": true, "strokeWidth": 1},
    "encoding": {"x": {"field": "x", "type": "quantitative", "scale": {"domain": [0, 1], "nice": false, "zero": false}, "axis": {"title": "x"}}, "y": {"field": "y", "type": "quantitative", "scale": {"domain": [0, 1], "nice": false, "zero": false}, "axis": {"title": "y"}}, "detail": {"field": "k", "type": "nominal"}, "order": {"field": "o", "type": "quantitative"}, "color": {"field": "l", "type": "quantitative", "scale": {"scheme": "viridis", "domain": [-0.12, 1]}, "legend": null}}},
   {"data": {"name": "tri"}, "transform": [{"filter": "datum.g == 2"}], "mark": {"type": "line", "color": "#ff2a2a", "strokeWidth": 1.2, "strokeDash": [1.5, 1.5]},
    "encoding": {"x": {"field": "x", "type": "quantitative", "axis": {"orient": "top", "labels": false, "title": null}}, "y": {"field": "y", "type": "quantitative", "axis": {"orient": "right", "labels": false, "title": null}}, "order": {"field": "o", "type": "quantitative"}}}
  ]}
 ]}
],
"spacing": 11
}
